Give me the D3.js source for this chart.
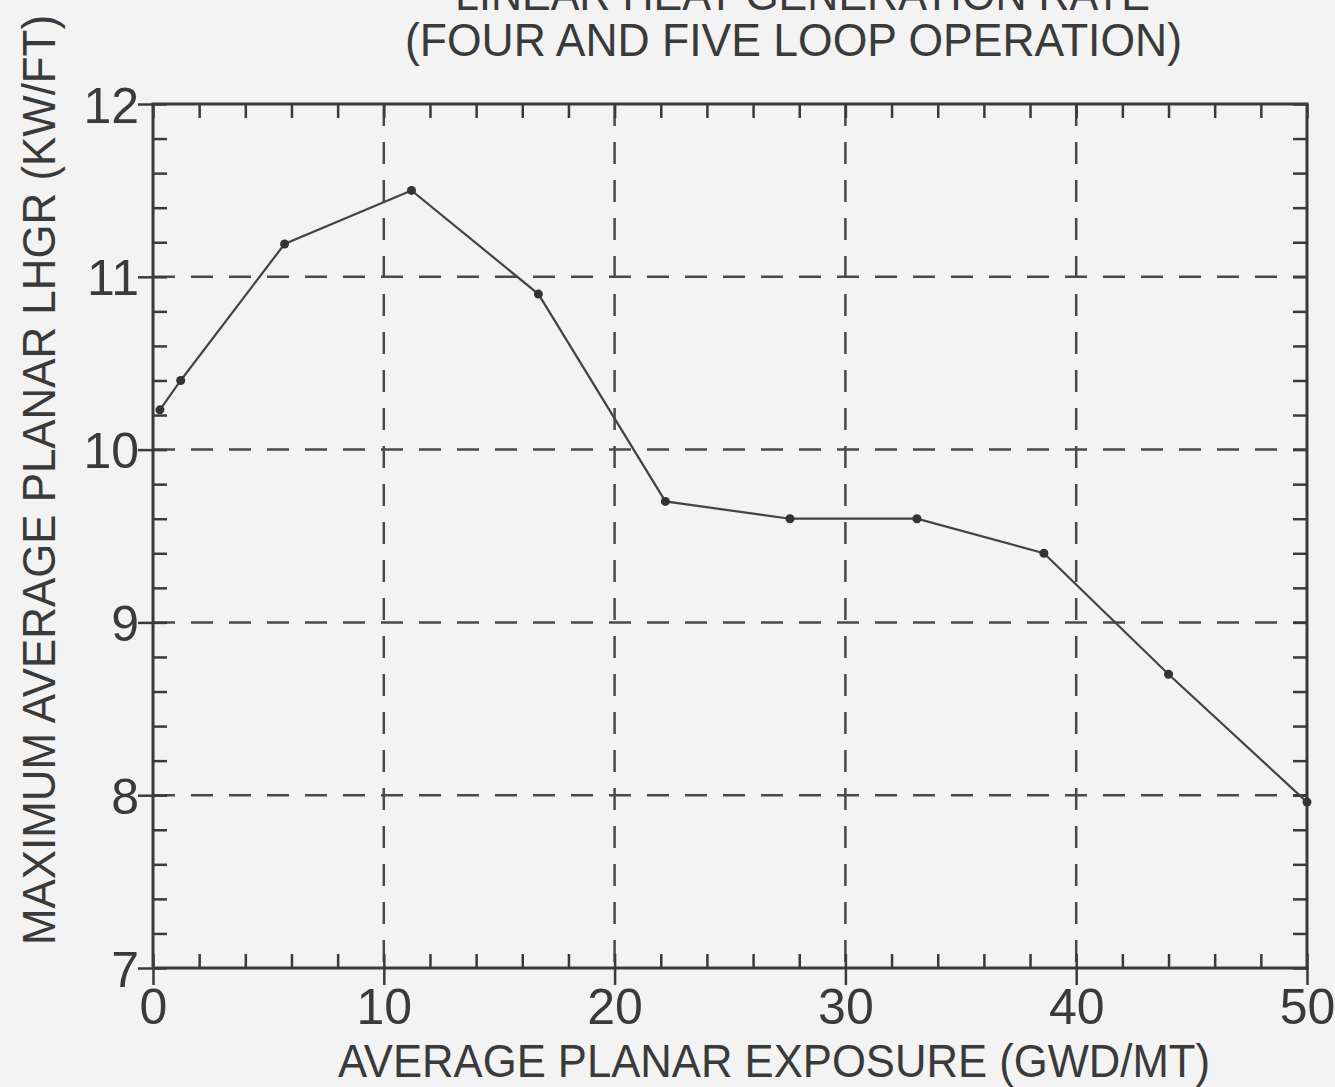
<!DOCTYPE html>
<html>
<head>
<meta charset="utf-8">
<script src="https://cdn.jsdelivr.net/npm/d3@7"></script>
<style>
  body { margin: 0; background: #f3f3f3; }
  svg { display: block; }
  text { font-family: "Liberation Sans Narrow", "Liberation Sans", Arial, sans-serif; fill: #3a3a3a; }
  .axis path { display: none; }
  .axis line { stroke: #3a3a3a; stroke-width: 2.5; }
  .grid { stroke: #4a4a4a; stroke-width: 2.5; stroke-dasharray: 22,16; }
</style>
</head>
<body>
<div class="mapl-chart"></div>
<script>
"use strict";
// exposure (GWD/MT) and MAPLHGR (KW/FT)
var exposure = [0.3, 1.2, 5.7, 11.2, 16.7, 22.2, 27.6, 33.1, 38.6, 44.0, 50.0];
var lhgr     = [10.23, 10.40, 11.19, 11.50, 10.90, 9.70, 9.60, 9.60, 9.40, 8.70, 7.96];
var xMajor = [0, 10, 20, 30, 40, 50];
var yMajor = [7, 8, 9, 10, 11, 12];
var titleLines = ["LINEAR HEAT GENERATION RATE", "(FOUR AND FIVE LOOP OPERATION)"];
var xTitle = "AVERAGE PLANAR EXPOSURE (GWD/MT)";
var yTitle = "MAXIMUM AVERAGE PLANAR LHGR (KW/FT)";

var W = 1335, H = 1087;
var margin = {top: 104, right: 28, bottom: 119, left: 153},
    width = W - margin.left - margin.right,
    height = H - margin.top - margin.bottom;

var svg = d3.select(".mapl-chart").append("svg")
    .attr("width", W).attr("height", H);
svg.append("rect").attr("width", W).attr("height", H).attr("fill", "#f3f3f3");

var g = svg.append("g")
    .attr("transform", "translate(" + margin.left + "," + margin.top + ")");

var x = d3.scaleLinear().domain([0, 50]).range([0, width]);
var y = d3.scaleLinear().domain([7, 12]).range([height, 0]);

var xMinor = d3.range(0, 50.001, 2);
var yMinor = d3.range(7, 12.001, 0.2);

//dashed grid
g.selectAll(".vgrid").data(xMajor.slice(1, -1)).enter().append("line")
  .attr("class", "grid")
  .attr("x1", function(d){ return x(d); }).attr("x2", function(d){ return x(d); })
  .attr("y1", 0).attr("y2", height);
g.selectAll(".hgrid").data(yMajor.slice(1, -1)).enter().append("line")
  .attr("class", "grid")
  .attr("x1", 0).attr("x2", width)
  .attr("y1", function(d){ return y(d); }).attr("y2", function(d){ return y(d); });

//minor ticks on all four sides, pointing inward
g.append("g").attr("class", "axis").attr("transform", "translate(0," + height + ")")
  .call(d3.axisBottom(x).tickValues(xMinor).tickSize(-14).tickFormat(""));
g.append("g").attr("class", "axis")
  .call(d3.axisTop(x).tickValues(xMinor).tickSize(-14).tickFormat(""));
g.append("g").attr("class", "axis")
  .call(d3.axisLeft(y).tickValues(yMinor).tickSize(-14).tickFormat(""));
g.append("g").attr("class", "axis").attr("transform", "translate(" + width + ",0)")
  .call(d3.axisRight(y).tickValues(yMinor).tickSize(-14).tickFormat(""));

//major ticks with labels
var xAxis = g.append("g").attr("class", "axis").attr("transform", "translate(0," + height + ")")
  .call(d3.axisBottom(x).tickValues(xMajor).tickSize(17).tickFormat(d3.format("d")));
xAxis.selectAll("text")
  .attr("y", 56).attr("dy", 0)
  .style("font-size", "50px");

var yAxis = g.append("g").attr("class", "axis")
  .call(d3.axisLeft(y).tickValues(yMajor).tickSize(15).tickFormat(d3.format("d")));
yAxis.selectAll("text")
  .attr("x", -14).attr("dy", "0.36em")
  .style("font-size", "50px");

//frame
g.append("rect")
  .attr("width", width).attr("height", height)
  .attr("fill", "none").attr("stroke", "#3a3a3a").attr("stroke-width", 3);

//curve
var line = d3.line()
  .x(function(d){ return x(d[0]); })
  .y(function(d){ return y(d[1]); });
var pts = exposure.map(function(e, i){ return [e, lhgr[i]]; });
g.append("path").datum(pts)
  .attr("d", line)
  .attr("fill", "none").attr("stroke", "#444").attr("stroke-width", 2.2);
g.selectAll(".pt").data(pts).enter().append("circle")
  .attr("class", "pt")
  .attr("cx", function(d){ return x(d[0]); })
  .attr("cy", function(d){ return y(d[1]); })
  .attr("r", 4.5).attr("fill", "#333");

//titles
svg.append("text").text(titleLines[0])
  .attr("x", 455).attr("y", 10)
  .attr("textLength", 695).attr("lengthAdjust", "spacingAndGlyphs")
  .style("font-size", "46px");
svg.append("text").text(titleLines[1])
  .attr("x", 405).attr("y", 56)
  .attr("textLength", 777).attr("lengthAdjust", "spacingAndGlyphs")
  .style("font-size", "46px");

svg.append("text").text(xTitle)
  .attr("x", 338).attr("y", 1077)
  .attr("textLength", 872).attr("lengthAdjust", "spacingAndGlyphs")
  .style("font-size", "46px");

svg.append("text").text(yTitle)
  .attr("transform", "translate(55,945) rotate(-90)")
  .attr("x", 0).attr("y", 0)
  .attr("textLength", 930).attr("lengthAdjust", "spacingAndGlyphs")
  .style("font-size", "46px");
</script>
</body>
</html>
